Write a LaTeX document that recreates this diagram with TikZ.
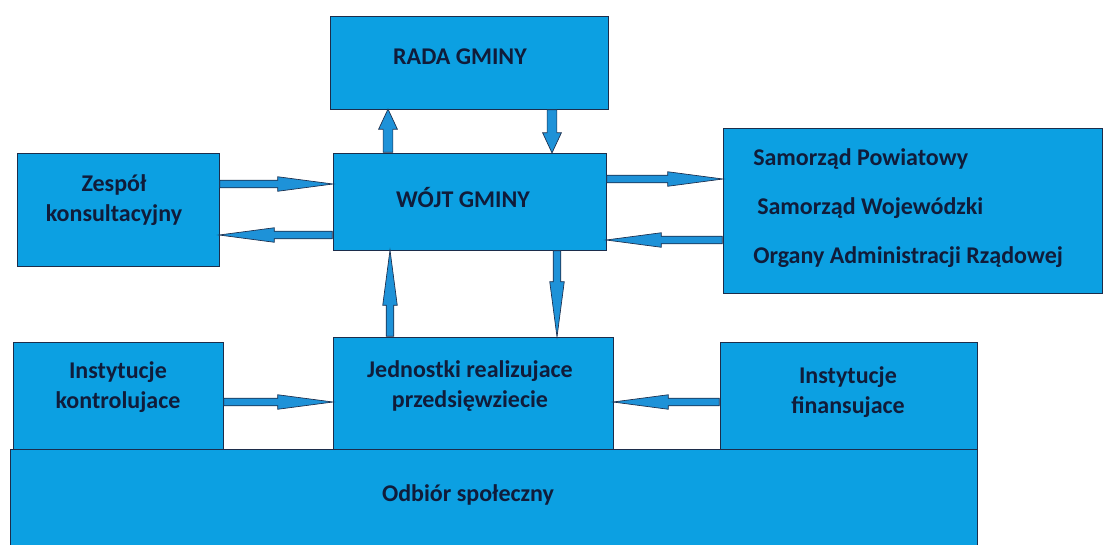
\documentclass[tikz,border=0pt]{standalone}
\usepackage{fontspec}
\setmainfont{Carlito}
\usetikzlibrary{shapes.arrows,calc}
\definecolor{boxblue}{RGB}{12,160,226}
\definecolor{arrowblue}{RGB}{30,146,216}
\definecolor{edgeline}{RGB}{28,45,75}
\definecolor{labelnavy}{RGB}{16,28,58}
\tikzset{
	flow/.style={to path={let \p1=(\tikztostart), \p2=(\tikztotarget), \n1={atan2(\y2-\y1,\x2-\x1)}, \n2={veclen(\x2-\x1,\y2-\y1)} in
		node[fat-arrow,minimum height=\n2,rotate=\n1,anchor=tail,#1] at (\p1) {}}},
	fat-arrow/.style={single arrow,draw=edgeline,fill=arrowblue,line width=0.5pt,inner xsep=0pt},
	flow-long/.style={flow={inner ysep=2.6pt,single arrow head extend=2.6pt,single arrow tip angle=15}},
	flow-short/.style={flow={inner ysep=3.4pt,single arrow head extend=3.4pt,single arrow tip angle=50}}
}
\begin{document}
\begin{tikzpicture}[x=0.75pt,y=-0.75pt]
	\tikzstyle{g-box}=[rectangle,draw=edgeline,fill=boxblue,line width=0.6pt,inner sep=0pt]
	\tikzstyle{g-text}=[text=labelnavy,font=\fontsize{18}{22.5}\selectfont\bfseries,align=center,inner sep=0pt]
	\useasboundingbox (0,0) rectangle (1103,544);

	% boxes
	\node[g-box,minimum width=278*0.75pt,minimum height=93*0.75pt]	(rada)	at (469,62.5)	{};
	\node[g-box,minimum width=273*0.75pt,minimum height=97*0.75pt]	(wojt)	at (469.5,201.5)	{};
	\node[g-box,minimum width=202*0.75pt,minimum height=113*0.75pt]	(zesp)	at (118,209.5)	{};
	\node[g-box,minimum width=379*0.75pt,minimum height=165*0.75pt]	(samo)	at (912.5,210.5)	{};
	\node[g-box,minimum width=210*0.75pt,minimum height=107*0.75pt]	(kontr)	at (118,395.5)	{};
	\node[g-box,minimum width=280*0.75pt,minimum height=112*0.75pt]	(jedn)	at (473,393)	{};
	\node[g-box,minimum width=257*0.75pt,minimum height=107*0.75pt]	(finans)	at (848.5,395.5)	{};
	\node[g-box,minimum width=967*0.75pt,minimum height=97*0.75pt]	(odbior)	at (493.5,497.5)	{};

	% labels
	\node[g-text]	(rada-t)	at (460,57)	{RADA GMINY};
	\node[g-text]	(wojt-t)	at (463,197)	{WÓJT GMINY};
	\node[g-text]	(zesp-t)	at (114,200)	{Zespół\\konsultacyjny};
	\node[g-text,anchor=west]	(samo-t1)	at (753,159)	{Samorząd Powiatowy};
	\node[g-text,anchor=west]	(samo-t2)	at (757,208)	{Samorząd Wojewódzki};
	\node[g-text,anchor=west]	(samo-t3)	at (753,257)	{Organy Administracji Rządowej};
	\node[g-text]	(kontr-t)	at (118,387)	{Instytucje\\kontrolujace};
	\node[g-text]	(jedn-t)	at (470,386)	{Jednostki realizujace\\przedsięwziecie};
	\node[g-text]	(finans-t)	at (848,392)	{Instytucje\\finansujace};
	\node[g-text]	(odbior-t)	at (468,495)	{Odbiór społeczny};

	% connectors
	\path
		(zesp.east |- 0,184)	edge[flow-long]	(wojt.west |- 0,184)
		(wojt.west |- 0,235)	edge[flow-long]	(zesp.east |- 0,235)
		(wojt.east |- 0,179)	edge[flow-long]	(samo.west |- 0,179)
		(samo.west |- 0,240)	edge[flow-long]	(wojt.east |- 0,240)
		(kontr.east |- 0,402)	edge[flow-long]	(jedn.west |- 0,402)
		(finans.west |- 0,402)	edge[flow-long]	(jedn.east |- 0,402)
		(jedn.north -| 390,0)	edge[flow-long]	(wojt.south -| 390,0)
		(wojt.south -| 557,0)	edge[flow-long]	(jedn.north -| 557,0)
		(wojt.north -| 388,0)	edge[flow-short]	(rada.south -| 388,0)
		(rada.south -| 552,0)	edge[flow-short]	(wojt.north -| 552,0);
\end{tikzpicture}
\end{document}
